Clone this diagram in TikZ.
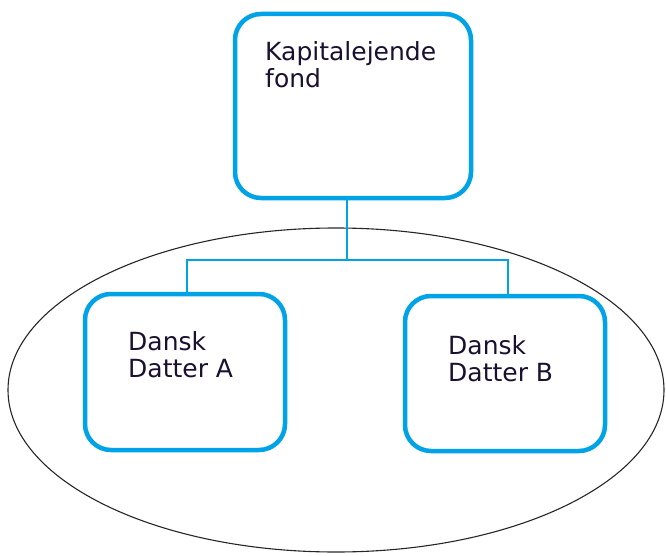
\documentclass[tikz,border=0pt]{standalone}
\usepackage{fontspec}
\setmainfont{DejaVu Sans}
\usetikzlibrary{shapes.geometric}
\definecolor{boxblue}{HTML}{00A2E8}
\definecolor{inkdark}{HTML}{1A1030}
\begin{document}
\begin{tikzpicture}[x=1pt,y=-1pt,
  entity/.style={draw=boxblue,line width=4.5pt,rounded corners=26pt,fill=white,minimum width=#1,inner sep=0pt},
  lbl/.style={anchor=base west,inner sep=0pt,align=left,font=\fontsize{25}{27}\selectfont,text=inkdark},
  link/.style={draw=boxblue,line width=1.3pt}]
\useasboundingbox (0,0) rectangle (666,556);
\node[draw=black!85,line width=1.1pt,ellipse,minimum width=656pt,minimum height=324pt,inner sep=0pt] (group) at (336,390) {};
\node[entity=236pt,minimum height=184pt] (top) at (353,106) {};
\node[entity=200pt,minimum height=156pt] (A) at (185,372) {};
\node[entity=200pt,minimum height=155pt] (B) at (505,373.5) {};
\node[lbl] (topt) at (265,88) {Kapitalejende\\fond};
\node[lbl] (At) at (128,377) {Dansk\\Datter A};
\node[lbl] (Bt) at (448,381) {Dansk\\Datter B};
\coordinate (j) at (347,260);
\coordinate (jA) at (187,260);
\coordinate (jB) at (508,260);
\draw[link] (j |- top.south) -- (j);
\draw[link] (jA |- A.north) -- (jA) -- (jB) -- (jB |- B.north);
\end{tikzpicture}
\end{document}
